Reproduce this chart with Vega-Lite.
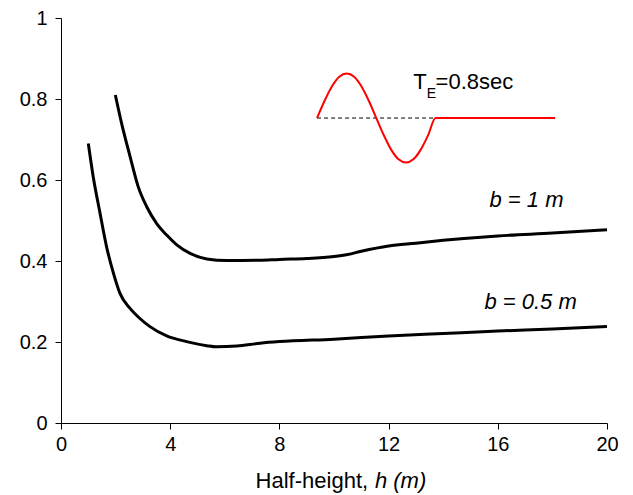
{
  "$schema": "https://vega.github.io/schema/vega-lite/v6.json",
  "width": 546,
  "height": 405,
  "autosize": "none",
  "padding": {"left": 61, "top": 18, "right": 26, "bottom": 72},
  "background": "white",
  "config": {
    "view": {"stroke": null},
    "font": "Liberation Sans",
    "axis": {
      "grid": false,
      "domainColor": "black",
      "domainWidth": 1,
      "tickColor": "black",
      "tickWidth": 1,
      "tickSize": 6,
      "labelColor": "black",
      "labelFont": "Liberation Sans",
      "labelFontSize": 20,
      "title": null
    }
  },
  "datasets": {
    "curves": [
      {"series": "b1", "x": 1.99, "y": 0.81},
      {"series": "b1", "x": 2.22, "y": 0.74},
      {"series": "b1", "x": 2.53, "y": 0.658},
      {"series": "b1", "x": 2.83, "y": 0.583},
      {"series": "b1", "x": 3.14, "y": 0.534},
      {"series": "b1", "x": 3.5, "y": 0.493},
      {"series": "b1", "x": 3.87, "y": 0.464},
      {"series": "b1", "x": 4.24, "y": 0.44},
      {"series": "b1", "x": 4.73, "y": 0.419},
      {"series": "b1", "x": 5.34, "y": 0.405},
      {"series": "b1", "x": 6.07, "y": 0.401},
      {"series": "b1", "x": 7.29, "y": 0.402},
      {"series": "b1", "x": 8.0, "y": 0.404},
      {"series": "b1", "x": 9.0, "y": 0.406},
      {"series": "b1", "x": 10.0, "y": 0.411},
      {"series": "b1", "x": 10.5, "y": 0.416},
      {"series": "b1", "x": 11.0, "y": 0.424},
      {"series": "b1", "x": 12.0, "y": 0.437},
      {"series": "b1", "x": 13.0, "y": 0.444},
      {"series": "b1", "x": 14.0, "y": 0.451},
      {"series": "b1", "x": 16.0, "y": 0.462},
      {"series": "b1", "x": 18.0, "y": 0.469},
      {"series": "b1", "x": 20.0, "y": 0.477},
      {"series": "b05", "x": 1.0, "y": 0.69},
      {"series": "b05", "x": 1.18, "y": 0.608},
      {"series": "b05", "x": 1.43, "y": 0.518},
      {"series": "b05", "x": 1.67, "y": 0.435},
      {"series": "b05", "x": 1.92, "y": 0.37},
      {"series": "b05", "x": 2.16, "y": 0.32},
      {"series": "b05", "x": 2.53, "y": 0.283},
      {"series": "b05", "x": 2.89, "y": 0.258},
      {"series": "b05", "x": 3.26, "y": 0.238},
      {"series": "b05", "x": 3.87, "y": 0.215},
      {"series": "b05", "x": 4.6, "y": 0.201},
      {"series": "b05", "x": 5.34, "y": 0.191},
      {"series": "b05", "x": 5.7, "y": 0.188},
      {"series": "b05", "x": 6.44, "y": 0.19},
      {"series": "b05", "x": 7.29, "y": 0.197},
      {"series": "b05", "x": 8.0, "y": 0.201},
      {"series": "b05", "x": 10.0, "y": 0.207},
      {"series": "b05", "x": 12.0, "y": 0.215},
      {"series": "b05", "x": 14.0, "y": 0.221},
      {"series": "b05", "x": 16.0, "y": 0.227},
      {"series": "b05", "x": 18.0, "y": 0.232},
      {"series": "b05", "x": 20.0, "y": 0.238}
    ],
    "wave": [
      {"x": 9.38, "y": 0.753},
      {"x": 9.651, "y": 0.795},
      {"x": 9.923, "y": 0.831},
      {"x": 10.194, "y": 0.855},
      {"x": 10.465, "y": 0.863},
      {"x": 10.736, "y": 0.855},
      {"x": 11.008, "y": 0.831},
      {"x": 11.279, "y": 0.795},
      {"x": 11.55, "y": 0.753},
      {"x": 11.821, "y": 0.711},
      {"x": 12.093, "y": 0.675},
      {"x": 12.364, "y": 0.651},
      {"x": 12.635, "y": 0.643},
      {"x": 12.906, "y": 0.651},
      {"x": 13.178, "y": 0.675},
      {"x": 13.449, "y": 0.711},
      {"x": 13.72, "y": 0.753},
      {"x": 18.1, "y": 0.753}
    ],
    "baseline": [
      {"x": 9.38, "y": 0.753},
      {"x": 13.72, "y": 0.753}
    ],
    "blabels": [
      {"x": 17.05, "y": 0.55, "text": "b = 1 m"},
      {"x": 17.2, "y": 0.298, "text": "b = 0.5 m"}
    ],
    "tmain": [
      {"x": 12.9, "y": 0.825, "text": "T"},
      {"x": 13.72, "y": 0.825, "text": "=0.8sec"}
    ],
    "tsub": [
      {"x": 13.4, "y": 0.802, "text": "E"}
    ],
    "xtitle1": [
      {"x": 11.25, "y": -0.1605, "text": "Half-height,"}
    ],
    "xtitle2": [
      {"x": 11.5, "y": -0.1605, "text": "h (m)"}
    ]
  },
  "encoding": {
    "x": {
      "field": "x",
      "type": "quantitative",
      "scale": {"domain": [0, 20], "nice": false, "zero": false},
      "axis": {"values": [0, 4, 8, 12, 16, 20], "labelPadding": 5, "labelFlush": false}
    },
    "y": {
      "field": "y",
      "type": "quantitative",
      "scale": {"domain": [0, 1], "nice": false, "zero": false},
      "axis": {"values": [0, 0.2, 0.4, 0.6, 0.8, 1], "format": "~g", "labelPadding": 8, "labelFlush": false}
    }
  },
  "layer": [
    {
      "data": {"name": "curves"},
      "mark": {"type": "line", "color": "black", "strokeWidth": 3, "interpolate": "monotone"},
      "encoding": {"detail": {"field": "series"}}
    },
    {
      "data": {"name": "baseline"},
      "mark": {"type": "line", "color": "black", "strokeWidth": 1, "strokeDash": [4, 3]},
      "encoding": {}
    },
    {
      "data": {"name": "wave"},
      "mark": {"type": "line", "color": "#ff0000", "strokeWidth": 2, "interpolate": "monotone"},
      "encoding": {}
    },
    {
      "data": {"name": "blabels"},
      "mark": {"type": "text", "fontSize": 22, "fontStyle": "italic", "align": "center", "baseline": "middle", "color": "black"},
      "encoding": {"text": {"field": "text"}}
    },
    {
      "data": {"name": "tmain"},
      "mark": {"type": "text", "fontSize": 22, "align": "left", "baseline": "alphabetic", "color": "black"},
      "encoding": {"text": {"field": "text"}}
    },
    {
      "data": {"name": "tsub"},
      "mark": {"type": "text", "fontSize": 14, "align": "left", "baseline": "alphabetic", "color": "black"},
      "encoding": {"text": {"field": "text"}}
    },
    {
      "data": {"name": "xtitle1"},
      "mark": {"type": "text", "fontSize": 22, "align": "right", "baseline": "alphabetic", "color": "black"},
      "encoding": {"text": {"field": "text"}}
    },
    {
      "data": {"name": "xtitle2"},
      "mark": {"type": "text", "fontSize": 22, "fontStyle": "italic", "align": "left", "baseline": "alphabetic", "color": "black"},
      "encoding": {"text": {"field": "text"}}
    }
  ]
}
